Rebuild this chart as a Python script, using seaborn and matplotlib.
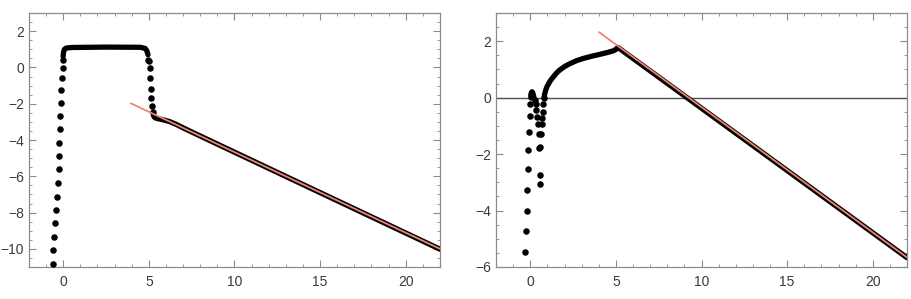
import numpy as np
import pandas as pd
import matplotlib
matplotlib.use("Agg")
import matplotlib.pyplot as plt
import seaborn as sns
from matplotlib.ticker import MultipleLocator

# ---- left panel data ----
left_rise_x = [-0.60, -0.57, -0.52, -0.48, -0.43, -0.37, -0.33, -0.27, -0.23, -0.22,
               -0.17, -0.17, -0.13, -0.12, -0.08, -0.04, -0.02]
left_rise_y = [-10.84, -10.09, -9.35, -8.60, -7.87, -7.12, -6.38, -5.61, -4.88, -4.15,
               -3.39, -2.66, -1.95, -1.25, -0.60, -0.05, 0.40]
left_flat_x = [-0.01, 0.02, 0.07, 0.18, 0.5, 2.5, 4.5, 4.78, 4.88, 4.95]
left_flat_y = [0.60, 0.85, 1.00, 1.07, 1.10, 1.12, 1.11, 1.05, 0.92, 0.70]
left_drop_x = [4.97, 5.01, 5.05, 5.09, 5.11, 5.15, 5.19, 5.23]
left_drop_y = [0.40, 0.35, -0.05, -0.59, -1.18, -1.67, -2.13, -2.44]
left_tail_x = [5.24, 5.28, 5.35, 5.5, 5.8, 6.2, 6.6, 7.0, 8.0, 22.0]
left_tail_y = [-2.50, -2.68, -2.77, -2.82, -2.88, -2.98, -3.14, -3.33, -3.78, -10.02]
left_fit_x = [3.95, 22.0]
left_fit_y = [-1.98, -10.00]

# ---- right panel data ----
right_left_x = [-0.29, -0.25, -0.21, -0.17, -0.14, -0.12, -0.08, -0.04, 0.00, 0.02]
right_left_y = [-5.48, -4.74, -4.00, -3.27, -2.54, -1.86, -1.21, -0.65, -0.22, 0.02]
right_peak_x = [0.03, 0.06, 0.10, 0.14, 0.18, 0.22]
right_peak_y = [0.08, 0.17, 0.21, 0.18, 0.10, 0.00]
right_mid_x = [0.26, 0.31, 0.36, 0.41, 0.45, 0.50, 0.54, 0.56, 0.56]
right_mid_y = [-0.08, -0.22, -0.44, -0.68, -0.93, -1.28, -1.78, -2.74, -3.07]
right_up_x = [0.59, 0.62, 0.66, 0.70, 0.74, 0.77, 0.80]
right_up_y = [-1.74, -1.27, -0.94, -0.73, -0.50, -0.22, -0.02]
right_curve_x = [0.81, 0.85, 0.92, 1.0, 1.15, 1.3, 1.5, 1.7, 2.0, 2.3, 2.7, 3.1,
                 3.6, 4.1, 4.5, 4.85, 5.0, 5.12, 22.0]
right_curve_y = [0.02, 0.15, 0.30, 0.42, 0.58, 0.70, 0.85, 0.97, 1.10, 1.20, 1.31, 1.39,
                 1.47, 1.54, 1.60, 1.66, 1.71, 1.78, -5.67]
right_fit_x = [4.02, 22.0]
right_fit_y = [2.32, -5.66]

sns.set_style("ticks")
plt.rcParams["font.family"] = ["Liberation Sans", "DejaVu Sans"]

frame_col = "#8c8c8c"
label_col = "#3a3a3a"
red = "#ef8474"
dot_size = 22
dense_lw = 3.8

fig = plt.figure(figsize=(9.12, 2.99), dpi=100)
ax1 = fig.add_axes([29 / 912, 32 / 299, 411 / 912, 254 / 299])
ax2 = fig.add_axes([496 / 912, 32 / 299, 411 / 912, 254 / 299])

# left panel
sns.scatterplot(x=left_rise_x, y=left_rise_y, ax=ax1, color="black", s=dot_size,
                linewidth=0, zorder=3)
sns.scatterplot(x=left_drop_x, y=left_drop_y, ax=ax1, color="black", s=dot_size,
                linewidth=0, zorder=3)
sns.lineplot(x=left_flat_x, y=left_flat_y, ax=ax1, color="black", lw=dense_lw,
             sort=False, estimator=None, solid_capstyle="round", zorder=3)
sns.lineplot(x=left_tail_x, y=left_tail_y, ax=ax1, color="black", lw=dense_lw,
             sort=False, estimator=None, solid_capstyle="round", zorder=3)
sns.lineplot(x=left_fit_x, y=left_fit_y, ax=ax1, color=red, lw=1.3, zorder=4)
ax1.set_xlim(-2, 22)
ax1.set_ylim(-11, 3)
ax1.yaxis.set_major_locator(MultipleLocator(2))
ax1.yaxis.set_minor_locator(MultipleLocator(0.5))

# right panel
ax2.axhline(0, color="#505050", lw=1.0, zorder=1)
for xs, ys in [(right_left_x, right_left_y), (right_mid_x, right_mid_y),
               (right_up_x, right_up_y)]:
    sns.scatterplot(x=xs, y=ys, ax=ax2, color="black", s=dot_size, linewidth=0, zorder=3)
sns.lineplot(x=right_peak_x, y=right_peak_y, ax=ax2, color="black", lw=dense_lw,
             sort=False, estimator=None, solid_capstyle="round", zorder=3)
sns.lineplot(x=right_curve_x, y=right_curve_y, ax=ax2, color="black", lw=dense_lw,
             sort=False, estimator=None, solid_capstyle="round", zorder=3)
sns.lineplot(x=right_fit_x, y=right_fit_y, ax=ax2, color=red, lw=1.3, zorder=4)
ax2.set_xlim(-2, 22)
ax2.set_ylim(-6, 3)
ax2.yaxis.set_major_locator(MultipleLocator(2))
ax2.yaxis.set_minor_locator(MultipleLocator(0.5))

for ax in (ax1, ax2):
    ax.xaxis.set_major_locator(MultipleLocator(5))
    ax.xaxis.set_minor_locator(MultipleLocator(1))
    ax.tick_params(which="both", direction="in", top=True, right=True,
                   color=frame_col, labelcolor=label_col, labelsize=10)
    ax.tick_params(which="major", length=5, width=0.8)
    ax.tick_params(which="minor", length=2.5, width=0.6)
    ax.tick_params(axis="x", pad=6)
    for sp in ax.spines.values():
        sp.set_color(frame_col)
        sp.set_linewidth(0.9)
    ax.set_xlabel("")
    ax.set_ylabel("")

fig.savefig("out.png", dpi=100)
